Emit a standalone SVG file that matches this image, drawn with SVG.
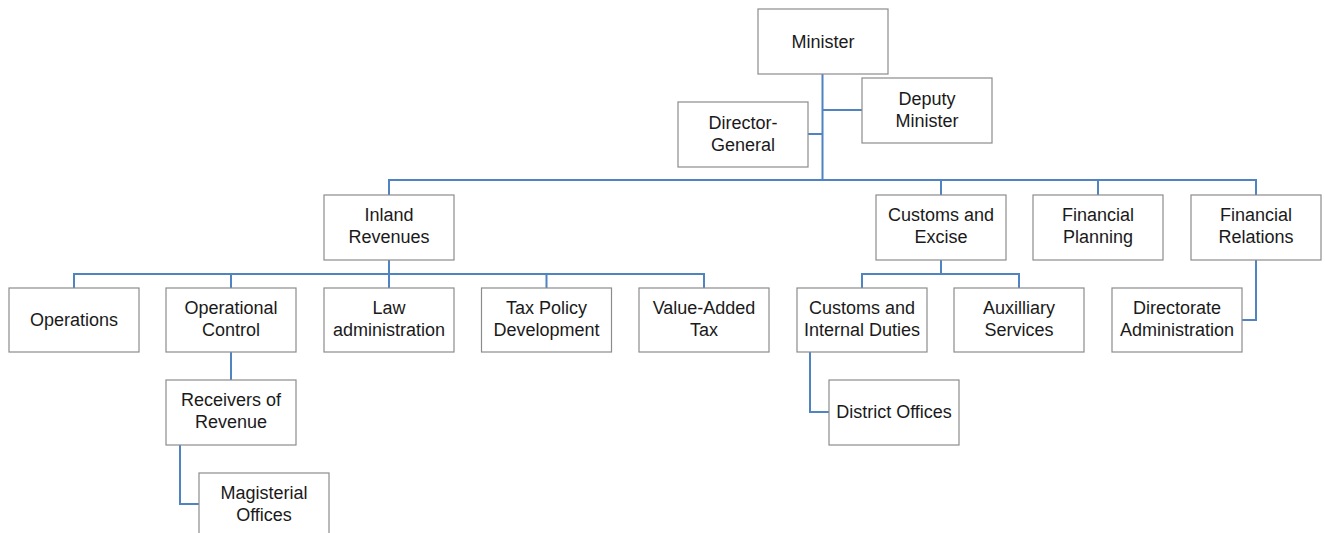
<svg xmlns="http://www.w3.org/2000/svg" width="1325" height="533" viewBox="0 0 1325 533">
<style>
.box{fill:#ffffff;stroke:#8c8c8c;stroke-width:1.2}
.t{font-family:"Liberation Sans",Arial,sans-serif;font-size:18px;fill:#1a1a1a;text-anchor:middle}
.c{fill:none;stroke:#4f84c0;stroke-width:2}
</style>
<rect width="1325" height="533" fill="#ffffff"/>
<g id="connectors">
<path class="c" d="M822.5 74 V180 M822.5 110 H862 M822.5 134 H808"/>
<path class="c" d="M389 195 V180 H1256 V195 M941 180 V195 M1098 180 V195"/>
<path class="c" d="M389 260 V274 M74 288 V274 H704 V288 M231 274 V288 M389 274 V288 M546.5 274 V288"/>
<path class="c" d="M231 352 V380 M180 445 V504 H199"/>
<path class="c" d="M941 260 V274 M862 288 V274 H1019 V288"/>
<path class="c" d="M810 352 V412 H829"/>
<path class="c" d="M1256 260 V320 H1242"/>
</g>
<g id="minister"><rect class="box" x="758" y="9" width="130" height="65"/><text class="t" x="823" y="48">Minister</text></g>
<g id="deputy-minister"><rect class="box" x="862" y="78" width="130" height="65"/><text class="t" x="927" y="105">Deputy</text><text class="t" x="927" y="127">Minister</text></g>
<g id="director-general"><rect class="box" x="678" y="102" width="130" height="65"/><text class="t" x="743" y="129">Director-</text><text class="t" x="743" y="151">General</text></g>
<g id="inland-revenues"><rect class="box" x="324" y="195" width="130" height="65"/><text class="t" x="389" y="221">Inland</text><text class="t" x="389" y="243">Revenues</text></g>
<g id="customs-excise"><rect class="box" x="876" y="195" width="130" height="65"/><text class="t" x="941" y="221">Customs and</text><text class="t" x="941" y="243">Excise</text></g>
<g id="financial-planning"><rect class="box" x="1033" y="195" width="130" height="65"/><text class="t" x="1098" y="221">Financial</text><text class="t" x="1098" y="243">Planning</text></g>
<g id="financial-relations"><rect class="box" x="1191" y="195" width="130" height="65"/><text class="t" x="1256" y="221">Financial</text><text class="t" x="1256" y="243">Relations</text></g>
<g id="operations"><rect class="box" x="9" y="288" width="130" height="64"/><text class="t" x="74" y="326">Operations</text></g>
<g id="operational-control"><rect class="box" x="166" y="288" width="130" height="64"/><text class="t" x="231" y="314">Operational</text><text class="t" x="231" y="336">Control</text></g>
<g id="law-administration"><rect class="box" x="324" y="288" width="130" height="64"/><text class="t" x="389" y="314">Law</text><text class="t" x="389" y="336">administration</text></g>
<g id="tax-policy"><rect class="box" x="481.5" y="288" width="130" height="64"/><text class="t" x="546.5" y="314">Tax Policy</text><text class="t" x="546.5" y="336">Development</text></g>
<g id="vat"><rect class="box" x="639" y="288" width="130" height="64"/><text class="t" x="704" y="314">Value-Added</text><text class="t" x="704" y="336">Tax</text></g>
<g id="customs-internal"><rect class="box" x="797" y="288" width="130" height="64"/><text class="t" x="862" y="314">Customs and</text><text class="t" x="862" y="336">Internal Duties</text></g>
<g id="auxilliary"><rect class="box" x="954" y="288" width="130" height="64"/><text class="t" x="1019" y="314">Auxilliary</text><text class="t" x="1019" y="336">Services</text></g>
<g id="directorate-admin"><rect class="box" x="1112" y="288" width="130" height="64"/><text class="t" x="1177" y="314">Directorate</text><text class="t" x="1177" y="336">Administration</text></g>
<g id="receivers"><rect class="box" x="166" y="380" width="130" height="65"/><text class="t" x="231" y="406">Receivers of</text><text class="t" x="231" y="428">Revenue</text></g>
<g id="district-offices"><rect class="box" x="829" y="380" width="130" height="65"/><text class="t" x="894" y="418">District Offices</text></g>
<g id="magisterial"><rect class="box" x="199" y="473" width="130" height="65"/><text class="t" x="264" y="499">Magisterial</text><text class="t" x="264" y="521">Offices</text></g>
</svg>
